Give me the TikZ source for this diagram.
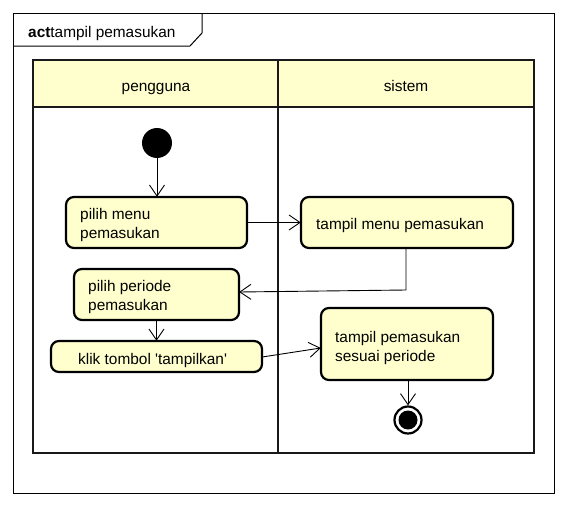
\documentclass[tikz,border=0pt]{standalone}
\usepackage{fontspec}
\setmainfont{Liberation Sans}
\usetikzlibrary{arrows.meta}
\definecolor{umlyellow}{RGB}{255,255,206}
\tikzset{
  act/.style={draw=black, line width=2.2pt, fill=umlyellow, rounded corners=8pt},
  lane/.style={draw=black!90, line width=2.8pt},
  flow/.style={draw=black, line width=0.9pt, -{Straight Barb[length=11pt,width=15pt,line width=0.9pt]}},
  txt/.style={font=\fontsize{15.4}{19}\selectfont, align=left, inner sep=0pt},
}
\begin{document}
\begin{tikzpicture}[x=1pt,y=-1pt]
\useasboundingbox (0,0) rectangle (568,506);
\fill[white] (0,0) rectangle (568,506);
% outer frame
\draw[line width=1pt] (13,13) rectangle (554,493);
\draw[line width=1pt] (13,46) -- (190,46) -- (202,33) -- (202,13);
\node[txt, anchor=base west] (title) at (28,37) {\textbf{act}tampil pemasukan};
% swimlanes
\fill[umlyellow] (33,60) rectangle (534,107);
\draw[lane] (33,60) rectangle (534,453);
\draw[lane] (33,107) -- (534,107);
\draw[lane] (278,60) -- (278,453);
\node[txt, anchor=base] (h1) at (156,91) {pengguna};
\node[txt, anchor=base] (h2) at (406,91) {sistem};
% initial node
\node[circle, fill=black, minimum size=30pt, inner sep=0pt] (start) at (157,143) {};
% actions
\path[act] (66,197) rectangle (247,248);
\node[inner sep=0pt, minimum width=181pt, minimum height=51pt] (b1) at (156.5,222.5) {};
\node[txt, anchor=base west] (t1) at (80,238) {pilih menu\\pemasukan};

\path[act] (74,269) rectangle (239,320);
\node[inner sep=0pt, minimum width=165pt, minimum height=51pt] (b2) at (156.5,294.5) {};
\node[txt, anchor=base west] (t2) at (88,310.5) {pilih periode\\pemasukan};

\path[act] (51,341) rectangle (262,372);
\node[inner sep=0pt, minimum width=211pt, minimum height=31pt] (b3) at (156.5,356.5) {};
\node[txt, anchor=base west] (t3) at (78,364.5) {klik tombol \textquotesingle tampilkan\textquotesingle};

\path[act] (301,197) rectangle (513,248);
\node[inner sep=0pt, minimum width=212pt, minimum height=51pt] (b4) at (407,222.5) {};
\node[txt, anchor=base west] (t4) at (316,229.5) {tampil menu pemasukan};

\path[act] (321,308) rectangle (493,380);
\node[inner sep=0pt, minimum width=172pt, minimum height=72pt] (b5) at (407,344) {};
\node[txt, anchor=base west] (t5) at (335,361) {tampil pemasukan\\sesuai periode};

% final node
\node[circle, draw=black, line width=2.2pt, fill=white, minimum size=27pt, inner sep=0pt] (end) at (408,420) {};
\fill[black] (end.center) circle (9.5pt);

% flows
\draw[flow] (start) -- (b1.north -| start);
\draw[flow] (b1.east) -- (b4.west);
\coordinate (c1) at (406,290);
\draw[flow] (b4.south -| c1) -- (c1) -- (b2.east |- 0,292);
\draw[flow] (b2.south) -- (b3.north);
\draw[flow] (b3.east |- 0,357) -- (b5.west |- 0,348);
\draw[flow] (b5.south -| end) -- (end.north);
\end{tikzpicture}
\end{document}
